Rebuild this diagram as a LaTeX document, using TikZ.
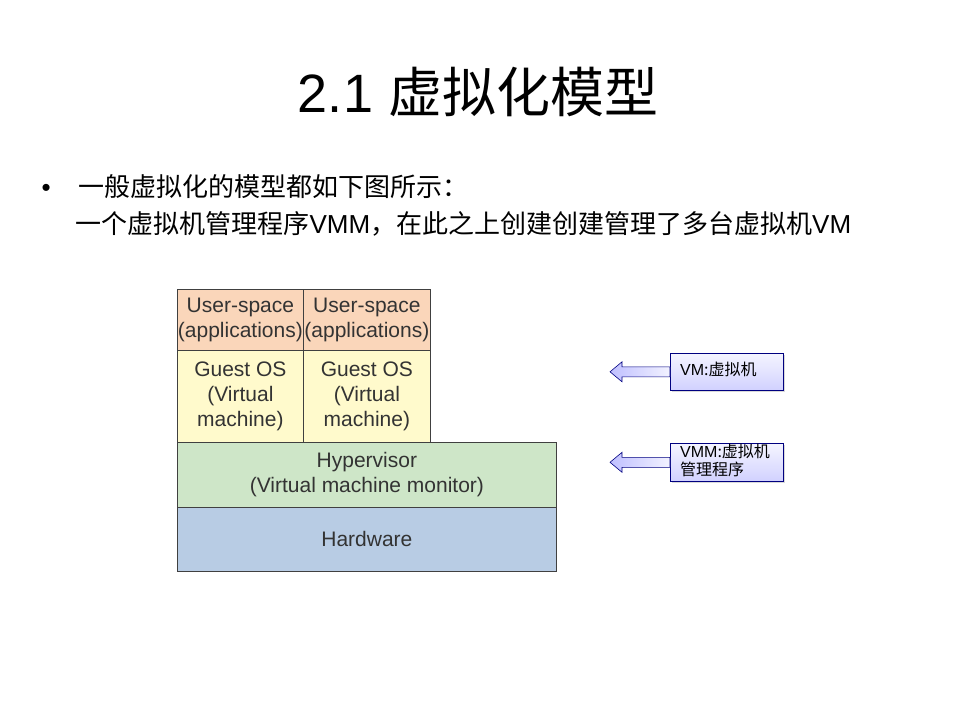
\documentclass[tikz,border=0pt]{standalone}
\usepackage{fontspec}
\usetikzlibrary{shadows}
\setmainfont{Liberation Sans}
\newfontfamily\cjk{Noto Sans CJK SC}
\definecolor{hwc}{RGB}{184,204,228}
\definecolor{hvc}{RGB}{206,230,200}
\definecolor{usc}{RGB}{250,214,186}
\definecolor{gsc}{RGB}{255,250,204}
\begin{document}
\begin{tikzpicture}[x=1pt,y=-1pt,
  lay/.style={draw=black!75,line width=0.8pt,inner sep=0,align=center,font=\fontsize{21}{25}\selectfont\color{black!80}},
  call/.style={draw=blue!50!black,line width=0.6pt,top color=blue!4,bottom color=blue!18,drop shadow={opacity=0.3,shadow xshift=2pt,shadow yshift=-2pt}},
  barrow/.style={draw=blue!50!black,line width=0.6pt,left color=blue!25,right color=blue!5}]
\useasboundingbox (0,0) rectangle (960,720);
\node (title) at (478,92) {\fontsize{54}{60}\selectfont 2.1 {\cjk 虚拟化模型}};
\node[anchor=west] (b1) at (38,187) {\fontsize{26}{30}\selectfont •\hspace{28pt}{\cjk 一般虚拟化的模型都如下图所示：}};
\node[anchor=west] (b2) at (72,224) {\fontsize{26}{30}\selectfont {\cjk 一个虚拟机管理程序}VMM{\cjk ，在此之上创建创建管理了多台虚拟机}VM};
% layers
\node[lay,fill=usc,minimum width=126,minimum height=61,anchor=north west] (u1) at (177,289) {User-space\\(applications)};
\node[lay,fill=usc,minimum width=127,minimum height=61,anchor=north west] (u2) at (303,289) {User-space\\(applications)};
\node[lay,fill=gsc,minimum width=126,minimum height=92,anchor=north west] (g1) at (177,350) {Guest OS\\(Virtual\\machine)};
\node[lay,fill=gsc,minimum width=127,minimum height=92,anchor=north west] (g2) at (303,350) {Guest OS\\(Virtual\\machine)};
\node[lay,fill=hvc,minimum width=379,minimum height=65,anchor=north west] (hv) at (177,442) {Hypervisor\\(Virtual machine monitor)};
\node[lay,fill=hwc,minimum width=379,minimum height=64,anchor=north west] (hw) at (177,507) {Hardware};
% callouts
\node[call,minimum width=113,minimum height=37,anchor=north west,inner sep=0] (vm) at (670,353) {};
\node[anchor=north west,inner sep=0,font=\fontsize{16}{18}\selectfont] (vmtxt) at (680,362) {VM{\cjk :虚拟机}};
\node[call,minimum width=113,minimum height=38,anchor=north west,inner sep=0] (vmm) at (670,443) {};
\node[anchor=north west,inner sep=0,align=left,font=\fontsize{16}{18}\selectfont] (vmmtxt) at (680,444) {VMM{\cjk :虚拟机}\\{\cjk 管理程序}};
\draw[barrow] (vm.west) ++(0,-5) -- ++(-48,0) -- ++(0,-5) -- ++(-12,10) -- ++(12,10) -- ++(0,-5) -- ++(48,0) -- cycle;
\draw[barrow] (vmm.west) ++(0,-5) -- ++(-48,0) -- ++(0,-5) -- ++(-12,10) -- ++(12,10) -- ++(0,-5) -- ++(48,0) -- cycle;
\end{tikzpicture}
\end{document}
